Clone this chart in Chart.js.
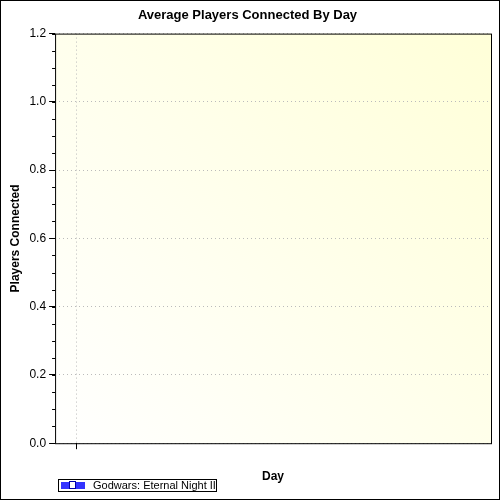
<!DOCTYPE html>
<html><head>
<script src="https://cdn.jsdelivr.net/npm/chart.js@4"></script>
<style>body{margin:0;background:#fff}#wrap{width:500px;height:500px}</style>
</head><body>
<div id="wrap"><canvas id="c" width="500" height="500"></canvas></div>
<script>
// Data
const seriesLabel = 'Godwars: Eternal Night II';
const dayValues = [null];
const dayPositions = [1];
const yTicks = [0, 0.2, 0.4, 0.6, 0.8, 1.0, 1.2];

// Fond en dégradé + cadre + ticks mineurs + légende
const decor = {
  id: 'decor',
  beforeDraw(chart){
    const {ctx, chartArea:a} = chart;
    ctx.save();
    ctx.fillStyle = '#fff'; ctx.fillRect(0,0,500,500);
    const g = ctx.createLinearGradient(a.left, a.bottom, a.right, a.top);
    g.addColorStop(0, '#ffffff'); g.addColorStop(1, '#ffffd8');
    ctx.fillStyle = g; ctx.fillRect(a.left, a.top, a.right-a.left, a.bottom-a.top);
    ctx.restore();
  },
  afterDraw(chart){
    const {ctx, chartArea:a, scales} = chart;
    ctx.save();
    ctx.strokeStyle = '#000'; ctx.lineWidth = 1;
    ctx.strokeRect(0.5,0.5,499,499);
    ctx.strokeRect(a.left+0.5, a.top+0.5, a.right-a.left, a.bottom-a.top);
    ctx.beginPath();
    for(let v=0; v<=1.2001; v+=0.05){
      const y = Math.round(scales.y.getPixelForValue(v))+0.5;
      ctx.moveTo(a.left-3, y); ctx.lineTo(a.left, y);
    }
    ctx.stroke();
    // légende
    ctx.strokeRect(58.5, 479.5, 158, 12);
    ctx.fillStyle = '#3333ff'; ctx.fillRect(61, 482, 24, 7);
    ctx.fillStyle = '#fff'; ctx.fillRect(69, 482, 6, 6);
    ctx.strokeStyle = '#0000aa'; ctx.strokeRect(69.5, 481.5, 6, 7);
    ctx.fillStyle = '#000'; ctx.font = '11px Arial, "Liberation Sans"';
    ctx.textBaseline = 'middle';
    ctx.fillText(seriesLabel, 93, 486);
    ctx.restore();
  }
};

new Chart(document.getElementById('c'), {
  type: 'line',
  data: { datasets: [{ label: seriesLabel, data: dayPositions.map((x,i)=>({x, y: dayValues[i]})), borderColor:'#3333ff', backgroundColor:'#fff' }] },
  options: {
    responsive:false, animation:false,
    layout:{ padding:{ top:4, right:9, bottom:12, left:4 } },
    plugins:{
      legend:{ display:false }, tooltip:{ enabled:false },
      title:{ display:true, text:'Average Players Connected By Day', color:'#000',
        font:{ family:'Arial, "Liberation Sans"', size:13, weight:'bold' }, padding:{ top:4, bottom:10 } }
    },
    scales:{
      x:{ type:'linear', min:0, max:20,
        afterBuildTicks(s){ s.ticks = dayPositions.map(v=>({value:v})); },
        ticks:{ callback:()=>'' , padding:0 },
        grid:{ color:'#bbbbbb', tickColor:'#000', tickLength:6 },
        border:{ display:false, dash:[1,3] },
        title:{ display:true, text:'Day', color:'#000', font:{ family:'Arial, "Liberation Sans"', size:12, weight:'bold' }, padding:{top:6} }
      },
      y:{ min:0, max:1.2,
        afterBuildTicks(s){ s.ticks = yTicks.map(v=>({value:v})); },
        ticks:{ callback:v=>v.toFixed(1), color:'#000', font:{ family:'Arial, "Liberation Sans"', size:12 } },
        grid:{ color:'#bbbbbb', tickColor:'#000', tickLength:6 },
        border:{ display:false, dash:[1,3] },
        title:{ display:true, text:'Players Connected', color:'#000', font:{ family:'Arial, "Liberation Sans"', size:12, weight:'bold' } }
      }
    }
  },
  plugins:[decor]
});
</script>
</body></html>
